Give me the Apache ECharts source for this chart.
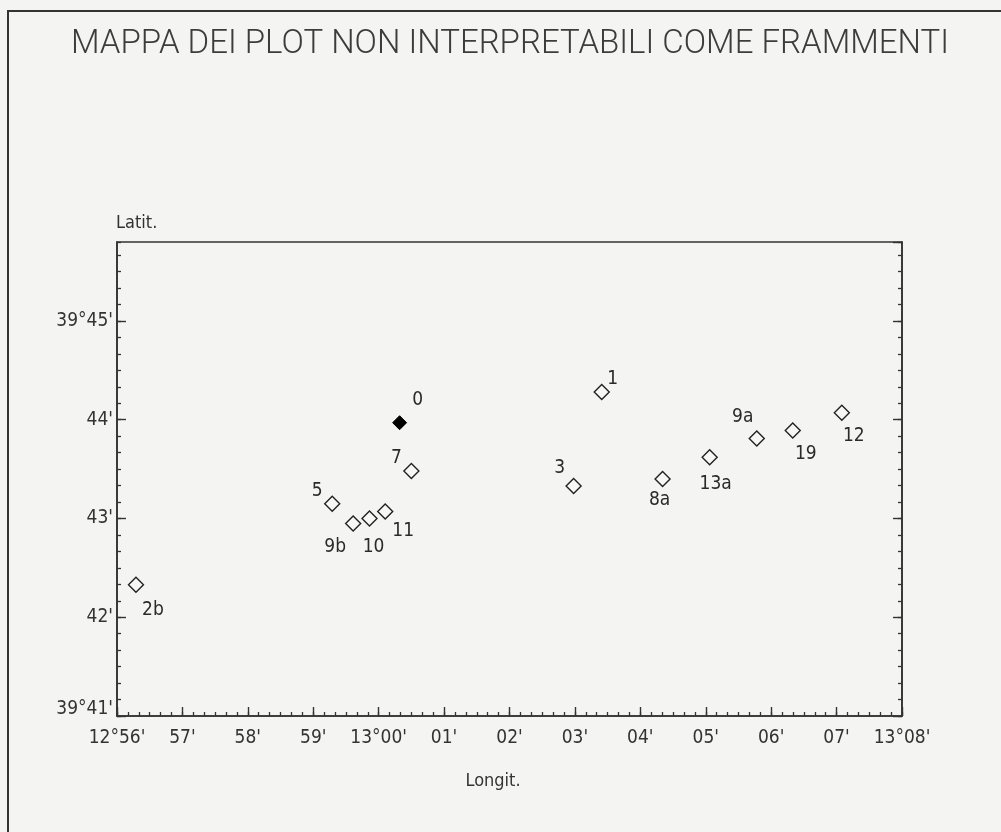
<!DOCTYPE html>
<html>
<head>
<meta charset="utf-8">
<script src="https://cdn.jsdelivr.net/npm/echarts@6/dist/echarts.min.js"></script>
<style>
  html, body { margin: 0; padding: 0; background: #f4f4f3; }
  #chart { width: 1001px; height: 832px; }
</style>
</head>
<body>
<div id="chart"></div>
<script>
// Plot positions: longitude in minutes east of 12°00', latitude in minutes north of 39°00'
const plotNames = ['2b', '5', '9b', '10', '11', '0', '7', '1', '3', '8a', '13a', '9a', '19', '12'];
const plotLon   = [56.29, 59.29, 59.61, 59.86, 60.10, 60.32, 60.50, 63.41, 62.98, 64.34, 65.06, 65.78, 66.33, 67.08];
const plotLat   = [42.33, 43.15, 42.95, 43.00, 43.07, 43.97, 43.48, 44.28, 43.33, 43.40, 43.62, 43.81, 43.89, 44.07];
const filledPlots = ['0'];

const lonTicks = [56, 57, 58, 59, 60, 61, 62, 63, 64, 65, 66, 67, 68];
const lonTickLabels = ["12°56'", "57'", "58'", "59'", "13°00'", "01'", "02'", "03'", "04'", "05'", "06'", "07'", "13°08'"];
const latTicks = [41, 42, 43, 44, 45];
const latTickLabels = ["39°41'", "42'", "43'", "44'", "39°45'"];

const LON_MIN = 56, LON_MAX = 68;
const LAT_MIN = 41, LAT_MAX = 45.8;

const FONT = "'Liberation Sans Narrow', 'DejaVu Sans Condensed', 'Liberation Sans', sans-serif";
const INK = '#333';

// label placement around each marker
const labelOffsets = {
  '2b': [17, 25], '5': [-15, -13], '9b': [-18, 24], '10': [4, 29], '11': [18, 19],
  '0': [18, -23], '7': [-15, -13], '1': [11, -13], '3': [-14, -18], '8a': [-3, 21],
  '13a': [6, 27], '9a': [-14, -21], '19': [13, 23], '12': [12, 23]
};

function richLabel(text, raised) {
  const n = raised ? 'nr' : 'n', d = raised ? 'dr' : 'd';
  const parts = text.split('°');
  if (parts.length === 2) return '{' + n + '|' + parts[0] + '}{' + d + '|°}{' + n + '|' + parts[1] + '}';
  return '{' + n + '|' + text + '}';
}
function tickFormatter(ticks, labels, raiseFirst) {
  return function (v) {
    const r = Math.round(v);
    if (Math.abs(v - r) > 1e-6) return '';
    const i = ticks.indexOf(r);
    return i < 0 ? '' : richLabel(labels[i], raiseFirst && i === 0);
  };
}
const tickRich = {
  n: { fontSize: 19, fontFamily: FONT, color: INK },
  d: { fontSize: 19, fontFamily: FONT, color: INK },
  nr: { fontSize: 19, fontFamily: FONT, color: INK, padding: [0, 0, 14, 0] },
  dr: { fontSize: 19, fontFamily: FONT, color: INK, padding: [0, 0, 14, 0] }
};

const points = plotNames.map((name, i) => ({
  name: name,
  value: [plotLon[i], plotLat[i]],
  symbolSize: filledPlots.includes(name) ? 14 : 15,
  itemStyle: filledPlots.includes(name)
    ? { color: '#000', borderColor: '#000', borderWidth: 1, opacity: 1 }
    : { color: '#f7f7f6', borderColor: '#222', borderWidth: 1.4, opacity: 1 },
  label: { offset: labelOffsets[name] }
}));

const gridRect = { left: 117, top: 242, right: 99, bottom: 116 };
const axisLine = { show: true, lineStyle: { color: INK, width: 1.6 } };

const chart = echarts.init(document.getElementById('chart'), null, { renderer: 'canvas' });
chart.setOption({
  backgroundColor: '#f4f4f3',
  animation: false,
  graphic: [
    { type: 'rect', shape: { x: 8, y: 11, width: 1020, height: 840 },
      style: { fill: 'none', stroke: '#333', lineWidth: 2 } },
    { type: 'text', x: 510, y: 45,
      style: { text: 'MAPPA DEI PLOT NON INTERPRETABILI COME FRAMMENTI', fill: '#3c3c3c',
               font: "300 33px Roboto, 'Liberation Sans', sans-serif", align: 'center', verticalAlign: 'middle' } },
    { type: 'text', x: 116, y: 223,
      style: { text: 'Latit.', fill: INK, font: "18px " + FONT, align: 'left', verticalAlign: 'middle' } },
    { type: 'text', x: 493, y: 781,
      style: { text: 'Longit.', fill: INK, font: "18px " + FONT, align: 'center', verticalAlign: 'middle' } }
  ],
  grid: [
    Object.assign({ show: true, borderColor: INK, borderWidth: 1.6, backgroundColor: 'transparent' }, gridRect),
    Object.assign({}, gridRect)
  ],
  xAxis: [
    { // minute ticks with labels
      type: 'value', gridIndex: 0, position: 'bottom', min: LON_MIN, max: LON_MAX, interval: 1,
      axisLine: axisLine, splitLine: { show: false },
      axisTick: { inside: true, length: 9, lineStyle: { color: INK, width: 1.4 } },
      axisLabel: { margin: 13, formatter: tickFormatter(lonTicks, lonTickLabels, false), rich: tickRich,
                   showMinLabel: true, showMaxLabel: true }
    },
    { // 10-second ticks (axis units of 1/6 minute)
      type: 'value', gridIndex: 1, position: 'bottom', min: LON_MIN * 6, max: LON_MAX * 6, interval: 1,
      axisLine: { show: false }, splitLine: { show: false }, axisLabel: { show: false },
      axisTick: { inside: true, length: 4, lineStyle: { color: INK, width: 1.3 } }
    }
  ],
  yAxis: [
    {
      type: 'value', gridIndex: 0, position: 'left', min: LAT_MIN, max: LAT_MAX, interval: 1,
      axisLine: axisLine, splitLine: { show: false },
      axisTick: { inside: true, length: 9, lineStyle: { color: INK, width: 1.4 } },
      axisLabel: { margin: 4, formatter: tickFormatter(latTicks, latTickLabels, true), rich: tickRich,
                   showMaxLabel: false }
    },
    {
      type: 'value', gridIndex: 0, position: 'right', min: LAT_MIN, max: LAT_MAX, interval: 1,
      axisLine: axisLine, splitLine: { show: false },
      axisTick: { inside: true, length: 9, lineStyle: { color: INK, width: 1.4 } },
      axisLabel: { show: false }
    },
    {
      type: 'value', gridIndex: 1, position: 'left', min: LAT_MIN * 6, max: LAT_MAX * 6, interval: 1,
      axisLine: { show: false }, splitLine: { show: false }, axisLabel: { show: false },
      axisTick: { inside: true, length: 4, lineStyle: { color: INK, width: 1.3 } }
    },
    {
      type: 'value', gridIndex: 1, position: 'right', min: LAT_MIN * 6, max: LAT_MAX * 6, interval: 1,
      axisLine: { show: false }, splitLine: { show: false }, axisLabel: { show: false },
      axisTick: { inside: true, length: 4, lineStyle: { color: INK, width: 1.3 } }
    }
  ],
  series: [{
    type: 'scatter',
    xAxisIndex: 0, yAxisIndex: 0,
    symbol: 'diamond',
    data: points,
    label: {
      show: true, position: 'inside', align: 'center', verticalAlign: 'middle',
      formatter: '{b}', color: '#2a2a2a', fontSize: 19, fontFamily: FONT, textBorderWidth: 0
    },
    emphasis: { disabled: true }
  }]
});
</script>
</body>
</html>
